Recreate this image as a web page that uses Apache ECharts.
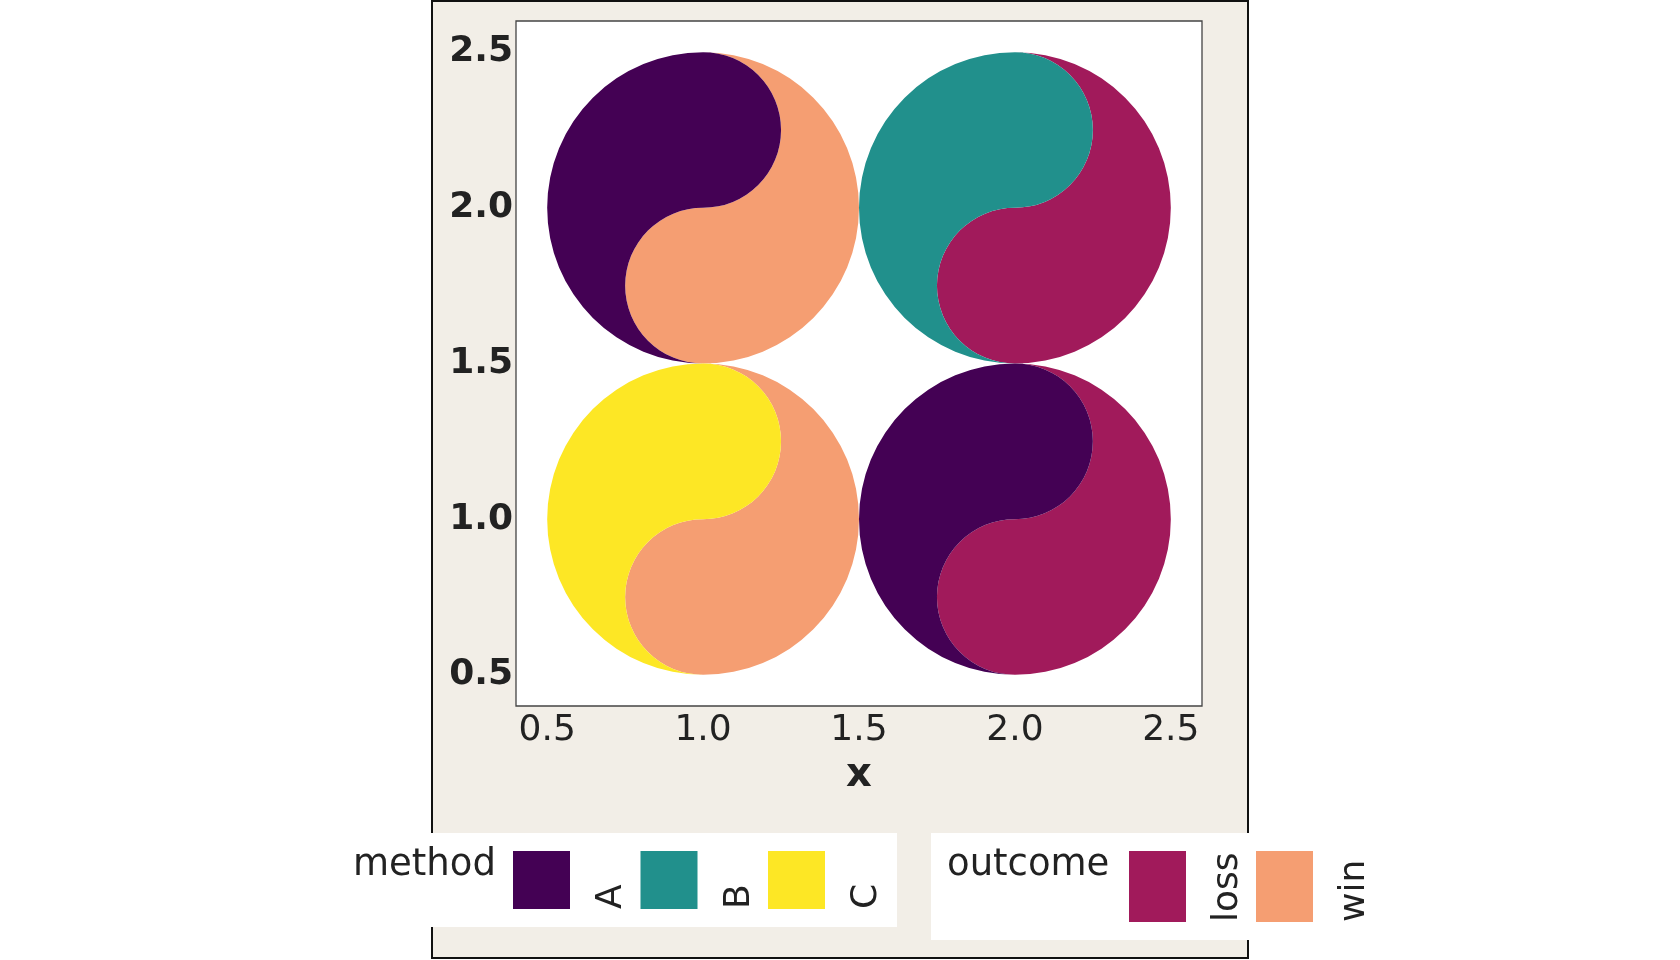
<!DOCTYPE html>
<html>
<head>
<meta charset="utf-8">
<title>method / outcome</title>
<script src="https://cdn.jsdelivr.net/npm/echarts@6/dist/echarts.min.js"></script>
<style>
  html, body { margin: 0; padding: 0; background: #fff; }
  #chart { width: 1680px; height: 960px; }
</style>
</head>
<body>
<div id="chart"></div>
<script>
  // one circle per row
  const xValues = [1, 2, 1, 2]
  const yValues = [2, 2, 1, 1]
  const methodOf = ['A', 'B', 'C', 'A']
  const outcomeOf = ['win', 'loss', 'win', 'loss']
  const circleRadius = 0.5

  const methods = ['A', 'B', 'C']
  const methodColors = ['#440154', '#21908C', '#FDE725']
  const outcomes = ['loss', 'win']
  const outcomeColors = ['#A11A5B', '#F59E72']

  const xTicks = [0.5, 1.0, 1.5, 2.0, 2.5]
  const yTicks = [0.5, 1.0, 1.5, 2.0, 2.5]

  const font = 'DejaVu Sans'
  const textColor = '#222'

  const myChart = echarts.init(document.getElementById('chart'))

  /* yin-yang: left half = method, right half = outcome */
  function renderItem(params, api) {
    const c = api.coord([api.value(0), api.value(1)])
    const s = api.size([circleRadius, circleRadius])
    const px = c[0], py = c[1], rx = s[0], ry = s[1]
    const hx = rx / 2, hy = ry / 2
    const top = px + ',' + (py - ry)
    const bottom = px + ',' + (py + ry)
    const mid = px + ',' + py
    const sCurve = ' A' + hx + ',' + hy + ' 0 0 1 ' + mid +
      ' A' + hx + ',' + hy + ' 0 0 0 ' + top + ' Z'
    const leftPath = 'M' + top + ' A' + rx + ',' + ry + ' 0 0 0 ' + bottom + sCurve
    const rightPath = 'M' + top + ' A' + rx + ',' + ry + ' 0 0 1 ' + bottom + sCurve
    return {
      type: 'group',
      children: [
        { type: 'path', shape: { pathData: rightPath }, style: { fill: outcomeColors[api.value(3)] } },
        { type: 'path', shape: { pathData: leftPath }, style: { fill: methodColors[api.value(2)] } }
      ]
    }
  }

  /* legend drawn by hand, labels are rotated */
  function legendGraphics() {
    const items = []
    // frame behind everything
    items.push({
      type: 'rect', z: -10, silent: true,
      shape: { x: 432, y: 1, width: 816, height: 957 },
      style: { fill: '#F2EEE7', stroke: '#111', lineWidth: 2 }
    })
    items.push({
      type: 'rect', z: 10, silent: true,
      shape: { x: 330, y: 833, width: 567, height: 94 },
      style: { fill: '#fff' }
    })
    items.push({
      type: 'rect', z: 10, silent: true,
      shape: { x: 931, y: 833, width: 470, height: 107 },
      style: { fill: '#fff' }
    })
    const groups = [
      { title: 'method', titleX: 353, keyX: 513, step: 127.5, keyH: 58, names: methods, colors: methodColors },
      { title: 'outcome', titleX: 947, keyX: 1129, step: 127, keyH: 71, names: outcomes, colors: outcomeColors }
    ]
    groups.forEach(g => {
      items.push({
        type: 'text', z: 11, x: g.titleX, y: 865,
        style: { text: g.title, font: '37px "' + font + '"', fill: textColor, align: 'left', verticalAlign: 'middle' }
      })
      g.names.forEach((name, i) => {
        const x0 = g.keyX + i * g.step
        items.push({
          type: 'rect', z: 11,
          shape: { x: x0, y: 851, width: 57, height: g.keyH },
          style: { fill: g.colors[i] }
        })
        items.push({
          type: 'text', z: 11, x: x0 + 57 + 42, y: 851 + g.keyH, rotation: Math.PI / 2,
          style: { text: name, font: '36px "' + font + '"', fill: textColor, align: 'left', verticalAlign: 'middle' }
        })
      })
    })
    return items
  }

  myChart.setOption({
    animation: false,
    grid: {
      left: 516, top: 21, width: 686, height: 685,
      show: true, backgroundColor: '#fff', borderColor: '#444', borderWidth: 1.3
    },
    xAxis: {
      type: 'value', min: 0.4, max: 2.6,
      axisLine: { show: false }, axisTick: { show: false }, splitLine: { show: false },
      axisLabel: {
        customValues: xTicks, formatter: v => v.toFixed(1),
        fontSize: 36, fontFamily: font, color: textColor, margin: 7
      },
      name: 'x', nameLocation: 'middle', nameGap: 50,
      nameTextStyle: { fontSize: 40, fontWeight: 'bold', fontFamily: font, color: textColor }
    },
    yAxis: {
      type: 'value', min: 0.4, max: 2.6,
      axisLine: { show: false }, axisTick: { show: false }, splitLine: { show: false },
      axisLabel: {
        customValues: yTicks, formatter: v => v.toFixed(1),
        fontSize: 36, fontWeight: 'bold', fontFamily: font, color: textColor, margin: 3,
        padding: [12, 0, 0, 0]
      }
    },
    graphic: legendGraphics(),
    series: [
      {
        type: 'custom',
        renderItem: renderItem,
        data: xValues.map((x, i) => [x, yValues[i], methods.indexOf(methodOf[i]), outcomes.indexOf(outcomeOf[i])])
      }
    ]
  })
</script>
</body>
</html>
